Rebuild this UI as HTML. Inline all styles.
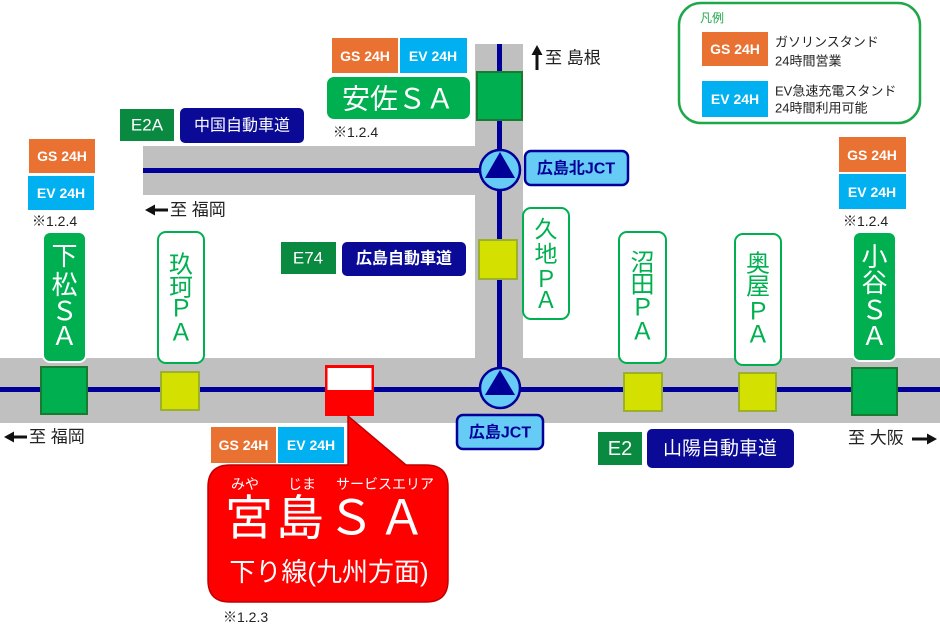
<!DOCTYPE html>
<html><head><meta charset="utf-8"><style>
html,body{margin:0;padding:0;background:#fff;}
svg{display:block;}
text{font-family:"Liberation Sans","Noto Sans CJK JP",sans-serif;}
.b{font-weight:bold;}
</style></head><body>
<svg width="940" height="625" viewBox="0 0 940 625" xmlns="http://www.w3.org/2000/svg">
<!-- roads -->
<rect x="0" y="358" width="940" height="65" fill="#c0c0c0"/>
<rect x="143" y="146" width="380" height="49" fill="#c0c0c0"/>
<rect x="475" y="44" width="48" height="340" fill="#c0c0c0"/>
<rect x="0" y="387" width="940" height="5" fill="#000099"/>
<rect x="143" y="168" width="357" height="5" fill="#000099"/>
<rect x="497" y="44" width="5" height="346" fill="#000099"/>

<!-- 安佐 SA node -->
<rect x="477" y="72" width="45" height="48" fill="#00b050" stroke="#1a7a30" stroke-width="2"/>
<!-- 久地 PA node -->
<rect x="479" y="240" width="38" height="39" fill="#d4e000" stroke="#9cb030" stroke-width="2"/>
<!-- main road nodes -->
<rect x="41" y="367" width="46" height="47" fill="#00b050" stroke="#1a7a30" stroke-width="2"/>
<rect x="161" y="372" width="38" height="38" fill="#d4e000" stroke="#9cb030" stroke-width="2"/>
<rect x="624" y="373" width="38" height="38" fill="#d4e000" stroke="#9cb030" stroke-width="2"/>
<rect x="739" y="373" width="37" height="38" fill="#d4e000" stroke="#9cb030" stroke-width="2"/>
<rect x="852" y="368" width="45" height="47" fill="#00b050" stroke="#1a7a30" stroke-width="2"/>
<!-- red marker -->
<rect x="325" y="365" width="49" height="51" fill="#ff0000"/>
<rect x="327.5" y="368" width="44" height="22" fill="#fff"/>

<!-- JCT circles -->
<circle cx="500" cy="170" r="20" fill="#66ccf5" stroke="#000099" stroke-width="2.5"/>
<polygon points="500,152 485,178 515,178" fill="#000099"/>
<circle cx="500" cy="388" r="20" fill="#66ccf5" stroke="#000099" stroke-width="2.5"/>
<polygon points="500,370 485,395 515,395" fill="#000099"/>
<rect x="525" y="151" width="103" height="34" rx="6" fill="#66ccf5" stroke="#000099" stroke-width="2.5"/>
<text x="576" y="169" font-size="16" font-weight="bold" fill="#000099" text-anchor="middle" dominant-baseline="central">広島北JCT</text>
<rect x="457" y="415" width="86" height="34" rx="6" fill="#66ccf5" stroke="#000099" stroke-width="2.5"/>
<text x="500" y="433" font-size="16" font-weight="bold" fill="#000099" text-anchor="middle" dominant-baseline="central">広島JCT</text>

<!-- road badges -->
<rect x="120" y="109" width="54" height="32" fill="#0a8a40"/>
<text x="147" y="125" font-size="17" fill="#fff" text-anchor="middle" dominant-baseline="central">E2A</text>
<rect x="180" y="108" width="124" height="35" rx="5" fill="#0a0a96"/>
<text x="242" y="126" font-size="16" fill="#fff" text-anchor="middle" dominant-baseline="central">中国自動車道</text>

<rect x="281" y="242" width="55" height="32" fill="#0a8a40"/>
<text x="308" y="258" font-size="17" fill="#fff" text-anchor="middle" dominant-baseline="central">E74</text>
<rect x="342" y="242" width="124" height="34" rx="5" fill="#0a0a96"/>
<text x="404" y="259" font-size="16" font-weight="bold" fill="#fff" text-anchor="middle" dominant-baseline="central">広島自動車道</text>

<rect x="598" y="432" width="44" height="33" fill="#0a8a40"/>
<text x="620" y="449" font-size="20" fill="#fff" text-anchor="middle" dominant-baseline="central">E2</text>
<rect x="647" y="429" width="147" height="39" rx="5" fill="#0a0a96"/>
<text x="720" y="449" font-size="19" fill="#fff" text-anchor="middle" dominant-baseline="central">山陽自動車道</text>

<!-- direction labels with heavy arrows -->
<g fill="#111" stroke="none">
  <rect x="153" y="208.5" width="15" height="3"/>
  <polygon points="145,210 155,204.5 155,215.5"/>
  <rect x="12" y="435.5" width="15" height="3"/>
  <polygon points="4,437 14,431.5 14,442.5"/>
  <rect x="912" y="437.5" width="16" height="3"/>
  <polygon points="937,439 927,433.5 927,444.5"/>
  <rect x="535.5" y="54" width="3" height="16"/>
  <polygon points="537,45 531.5,55 542.5,55"/>
</g>
<text x="170" y="210" font-size="17" fill="#222" dominant-baseline="central">至 福岡</text>
<text x="29" y="437" font-size="17" fill="#222" dominant-baseline="central">至 福岡</text>
<text x="848" y="438" font-size="17" fill="#222" dominant-baseline="central">至 大阪</text>
<text x="545" y="58" font-size="17" fill="#222" dominant-baseline="central">至 島根</text>

<!-- 安佐SA -->
<rect x="332" y="38" width="66" height="35" fill="#e97132"/>
<text x="365" y="56" font-size="14" class="b" fill="#fff" text-anchor="middle" dominant-baseline="central">GS 24H</text>
<rect x="400" y="38" width="67" height="35" fill="#00b0f0"/>
<text x="433" y="56" font-size="14" class="b" fill="#fff" text-anchor="middle" dominant-baseline="central">EV 24H</text>
<rect x="327" y="77" width="143" height="42" rx="7" fill="#00b050"/>
<text x="398" y="99" font-size="28" fill="#fff" text-anchor="middle" dominant-baseline="central">安佐ＳＡ</text>
<text x="333" y="132" font-size="14" fill="#222" dominant-baseline="central">※1.2.4</text>

<!-- left GS/EV -->
<rect x="29" y="139" width="66" height="34" fill="#e97132"/>
<text x="62" y="156" font-size="14" class="b" fill="#fff" text-anchor="middle" dominant-baseline="central">GS 24H</text>
<rect x="28" y="176" width="66" height="34" fill="#00b0f0"/>
<text x="61" y="193" font-size="14" class="b" fill="#fff" text-anchor="middle" dominant-baseline="central">EV 24H</text>
<text x="32" y="221" font-size="14" fill="#222" dominant-baseline="central">※1.2.4</text>

<!-- right GS/EV -->
<rect x="839" y="137" width="67" height="35" fill="#e97132"/>
<text x="872" y="155" font-size="14" class="b" fill="#fff" text-anchor="middle" dominant-baseline="central">GS 24H</text>
<rect x="839" y="174" width="67" height="35" fill="#00b0f0"/>
<text x="872" y="192" font-size="14" class="b" fill="#fff" text-anchor="middle" dominant-baseline="central">EV 24H</text>
<text x="843" y="221" font-size="14" fill="#222" dominant-baseline="central">※1.2.4</text>

<!-- vertical labels -->
<rect x="43" y="232" width="43" height="130" rx="7" fill="#00b050" stroke="#fff" stroke-width="2"/>
<g font-size="26" fill="#fff" text-anchor="middle" dominant-baseline="central">
<text x="64.5" y="256">下</text><text x="64.5" y="285">松</text><text x="64.5" y="311">Ｓ</text><text x="64.5" y="336">Ａ</text>
</g>
<rect x="158" y="232" width="46" height="131" rx="8" fill="#fff" stroke="#00b050" stroke-width="2"/>
<g font-size="24" fill="#00b050" text-anchor="middle" dominant-baseline="central">
<text x="181" y="265">玖</text><text x="181" y="288">珂</text><text x="181" y="309">Ｐ</text><text x="181" y="333">Ａ</text>
</g>
<rect x="523" y="208" width="46" height="111" rx="8" fill="#fff" stroke="#00b050" stroke-width="2"/>
<g font-size="23" fill="#00b050" text-anchor="middle" dominant-baseline="central">
<text x="546" y="229">久</text><text x="546" y="254">地</text><text x="546" y="279">Ｐ</text><text x="546" y="300">Ａ</text>
</g>
<rect x="619" y="232" width="47" height="131" rx="8" fill="#fff" stroke="#00b050" stroke-width="2"/>
<g font-size="24" fill="#00b050" text-anchor="middle" dominant-baseline="central">
<text x="642.5" y="263">沼</text><text x="642.5" y="285">田</text><text x="642.5" y="308">Ｐ</text><text x="642.5" y="332">Ａ</text>
</g>
<rect x="735" y="234" width="46" height="131" rx="8" fill="#fff" stroke="#00b050" stroke-width="2"/>
<g font-size="24" fill="#00b050" text-anchor="middle" dominant-baseline="central">
<text x="758" y="264">奥</text><text x="758" y="287">屋</text><text x="758" y="312">Ｐ</text><text x="758" y="335">Ａ</text>
</g>
<rect x="853" y="232" width="43" height="129" rx="7" fill="#00b050" stroke="#fff" stroke-width="2"/>
<g font-size="26" fill="#fff" text-anchor="middle" dominant-baseline="central">
<text x="874.5" y="257">小</text><text x="874.5" y="283">谷</text><text x="874.5" y="310">Ｓ</text><text x="874.5" y="336">Ａ</text>
</g>

<!-- legend -->
<rect x="679" y="3" width="241" height="120" rx="22" fill="#fff" stroke="#1ea84a" stroke-width="2.5"/>
<text x="700" y="18" font-size="12" fill="#1ea84a" dominant-baseline="central">凡例</text>
<rect x="702" y="32" width="66" height="34" fill="#e97132"/>
<text x="735" y="49" font-size="14" class="b" fill="#fff" text-anchor="middle" dominant-baseline="central">GS 24H</text>
<text x="775" y="42" font-size="13" fill="#222" dominant-baseline="central">ガソリンスタンド</text>
<text x="775" y="61" font-size="13" fill="#222" dominant-baseline="central">24時間営業</text>
<rect x="702" y="81" width="66" height="36" fill="#00b0f0"/>
<text x="735" y="99" font-size="14" class="b" fill="#fff" text-anchor="middle" dominant-baseline="central">EV 24H</text>
<text x="775" y="91" font-size="13" fill="#222" dominant-baseline="central">EV急速充電スタンド</text>
<text x="775" y="108" font-size="13" fill="#222" dominant-baseline="central">24時間利用可能</text>

<!-- 宮島SA callout -->
<rect x="211" y="427" width="65" height="36" fill="#e97132"/>
<text x="243.5" y="445" font-size="14" class="b" fill="#fff" text-anchor="middle" dominant-baseline="central">GS 24H</text>
<rect x="278" y="427" width="66" height="36" fill="#00b0f0"/>
<text x="311" y="445" font-size="14" class="b" fill="#fff" text-anchor="middle" dominant-baseline="central">EV 24H</text>
<path d="M230,465 L348,465 L348,416 L406,465 L426,465 Q448,465 448,487 L448,580 Q448,602 426,602 L230,602 Q208,602 208,580 L208,487 Q208,465 230,465 Z" fill="#ff0000" stroke="#c00000" stroke-width="1.5"/>
<g font-size="14" fill="#fff" dominant-baseline="central" text-anchor="middle">
<text x="245" y="484">みや</text>
<text x="302" y="484">じま</text>
<text x="385" y="484">サービスエリア</text>
</g>
<text x="327" y="519" font-size="48" fill="#fff" text-anchor="middle" dominant-baseline="central" letter-spacing="3">宮島ＳＡ</text>
<text x="329" y="572" font-size="26" fill="#fff" text-anchor="middle" dominant-baseline="central">下り線(九州方面)</text>
<text x="223" y="617" font-size="14" fill="#222" dominant-baseline="central">※1.2.3</text>
</svg>
</body></html>
